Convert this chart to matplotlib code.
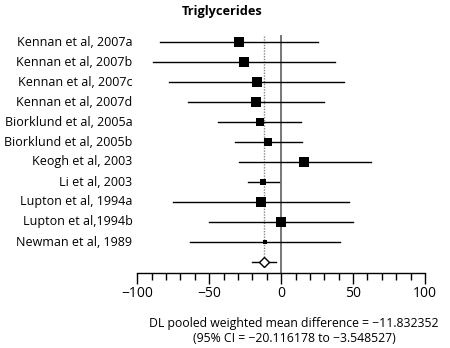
import matplotlib
matplotlib.use("Agg")
import matplotlib.pyplot as plt
import numpy as np

plt.rcParams['font.family'] = ['Open Sans', 'DejaVu Sans']

studies = ["Kennan et al, 2007a", "Kennan et al, 2007b", "Kennan et al, 2007c",
           "Kennan et al, 2007d", "Biorklund et al, 2005a", "Biorklund et al, 2005b",
           "Keogh et al, 2003", "Li et al, 2003", "Lupton et al, 1994a",
           "Lupton et al,1994b", "Newman et al, 1989"]
effect = [-29.4, -25.9, -17.1, -17.6, -14.6, -8.8, 16.2, -12.3, -14.1, 0.0, -11.3]
lower = [-84.5, -89.4, -77.8, -64.8, -44.2, -32.2, -29.4, -22.9, -75.5, -50.2, -63.4]
upper = [25.5, 37.5, 43.7, 29.6, 13.9, 14.4, 62.3, -1.6, 47.0, 50.2, 41.2]
weights = [10.0, 10.0, 10.0, 10.0, 8.1, 6.4, 10.0, 4.2, 10.0, 12.1, 2.5]
pooled = -11.832352
pooled_lo = -20.116178
pooled_hi = -3.548527
xticks_major = [-100, -50, 0, 50, 100]

W, H = 450, 348
fig = plt.figure(figsize=(W/100, H/100), dpi=100)
left_px, right_px = 137.3, 425.0
top_px, bot_px = 30.0, 272.5
ax = fig.add_axes([left_px/W, 1 - bot_px/H, (right_px-left_px)/W, (bot_px-top_px)/H])

n = len(studies)
rows = np.arange(n)
ax.set_xlim(-100, 100)
ax.set_ylim(n + 0.525, -0.6)

# reference lines
ax.plot([0, 0], [-0.3, n + 0.525], color='#777777', lw=1.4, zorder=1, clip_on=False)
ax.plot([pooled, pooled], [-0.3, n - 0.25], color='#888888', lw=1.0, ls=(0, (1, 1)), zorder=1)

for i in rows:
    ax.plot([lower[i], upper[i]], [i, i], color='black', lw=1.0, zorder=2)
    ms = np.sqrt(weights[i]) * 3.16 * 0.72
    ax.plot([effect[i]], [i], marker='s', ms=ms, color='black', mew=0, zorder=3)
    fig.text(132.5/W, 1 - (42 + 20*i)/H, studies[i], ha='right', va='center', fontsize=9)

# pooled
ax.plot([pooled_lo, pooled_hi], [n, n], color='black', lw=1.0, zorder=2)
ax.plot([pooled], [n], marker='D', ms=7.5*0.72, mfc='white', mec='black', mew=1.0, zorder=3)

for s in ['top', 'right', 'left']:
    ax.spines[s].set_visible(False)
ax.spines['bottom'].set_linewidth(1.0)
ax.set_yticks([])
ax.set_xticks(xticks_major)
ax.set_xticks(np.arange(-100, 101, 10), minor=True)
ax.set_xticklabels([str(t).replace('-', '\u2212') for t in xticks_major], fontsize=10)
ax.tick_params(axis='x', which='major', direction='out', length=8, width=1.0, pad=2)
ax.tick_params(axis='x', which='minor', direction='out', length=4.7, width=1.0)

fig.text(221.7/W, 1 - 12/H, "Triglycerides", ha='center', va='center', fontsize=9.2, fontweight='bold')
fig.text(294/W, 1 - 323/H, "DL pooled weighted mean difference = \u221211.832352",
         ha='center', va='center', fontsize=8.8)
fig.text(294/W, 1 - 338/H, "(95% CI = \u221220.116178 to \u22123.548527)",
         ha='center', va='center', fontsize=8.8)

fig.savefig("out.png", dpi=100)
